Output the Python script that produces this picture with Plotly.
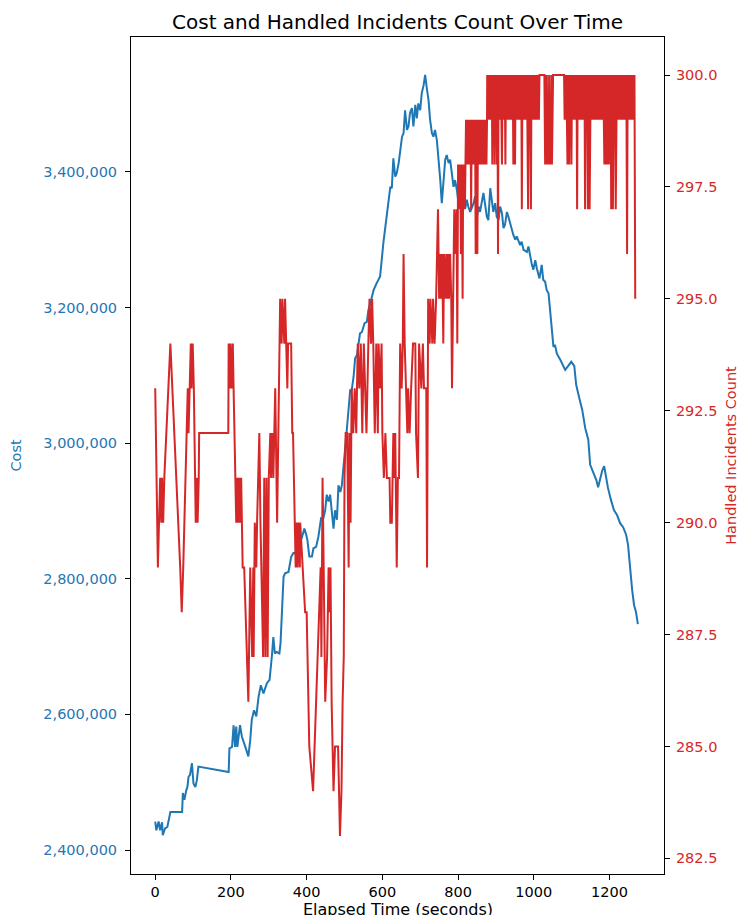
import plotly.graph_objects as go

# ---- Data ----
cost_time = [0, 3, 9, 13, 18, 20, 26, 32, 40, 71, 73, 77, 82, 85, 88, 92, 97, 101, 106, 110, 114,
             194, 196, 203, 207, 211, 214, 217, 224, 229, 238, 242, 246, 251, 255, 261, 267, 273,
             279, 286, 295, 302, 306, 308, 312, 316, 321, 328, 331, 335, 339, 343, 352, 359, 365,
             370, 374, 378, 381, 387, 394, 399, 402, 407, 414, 418, 425, 431, 438, 443, 449, 453,
             458, 462, 467, 471, 475, 480, 484, 489, 493, 497, 502, 506, 515, 519, 524, 528, 533,
             537, 541, 546, 553, 559, 563, 568, 577, 585, 594, 603, 612, 616, 621, 625, 629, 634,
             638, 643, 647, 652, 656, 660, 665, 669, 673, 678, 682, 687, 691, 695, 700, 704, 709,
             713, 718, 722, 726, 731, 735, 739, 744, 748, 753, 757, 761, 766, 770, 775, 779, 784,
             788, 792, 797, 801, 806, 810, 814, 819, 823, 827, 832, 841, 845, 850, 854, 858, 867,
             876, 880, 885, 889, 893, 898, 902, 907, 911, 916, 920, 924, 929, 933, 938, 946, 951,
             955, 964, 968, 973, 982, 986, 990, 995, 999, 1004, 1008, 1015, 1021, 1025, 1030,
             1034, 1039, 1043, 1048, 1052, 1056, 1061, 1070, 1083, 1091, 1099, 1107, 1112, 1120,
             1128, 1136, 1144, 1149, 1157, 1165, 1170, 1175, 1181, 1186, 1191, 1196, 1204, 1212,
             1220, 1228, 1236, 1244, 1249, 1254, 1260, 1265, 1270, 1275]
cost = [2442000, 2429000, 2442000, 2429000, 2441000, 2422000, 2432000, 2434000, 2456000, 2456000,
        2484000, 2474000, 2488000, 2493000, 2508000, 2511000, 2528000, 2498000, 2493000, 2503000,
        2523000, 2515000, 2550000, 2552000, 2584000, 2552000, 2582000, 2552000, 2584000, 2567000,
        2552000, 2545000, 2538000, 2562000, 2592000, 2606000, 2597000, 2626000, 2643000, 2631000,
        2646000, 2651000, 2670000, 2685000, 2714000, 2690000, 2692000, 2690000, 2705000, 2749000,
        2803000, 2808000, 2810000, 2832000, 2838000, 2838000, 2832000, 2833000, 2860000, 2860000,
        2874000, 2865000, 2857000, 2833000, 2833000, 2845000, 2847000, 2862000, 2889000, 2887000,
        2901000, 2924000, 2914000, 2924000, 2894000, 2874000, 2901000, 2887000, 2938000, 2928000,
        2938000, 2960000, 2990000, 3019000, 3078000, 3078000, 3098000, 3125000, 3130000, 3147000,
        3162000, 3164000, 3177000, 3179000, 3196000, 3206000, 3226000, 3236000, 3246000, 3297000,
        3341000, 3359000, 3378000, 3376000, 3420000, 3393000, 3398000, 3413000, 3428000, 3452000,
        3457000, 3491000, 3462000, 3467000, 3487000, 3494000, 3467000, 3499000, 3479000, 3501000,
        3491000, 3516000, 3528000, 3543000, 3521000, 3506000, 3477000, 3457000, 3452000, 3462000,
        3447000, 3423000, 3388000, 3354000, 3388000, 3418000, 3425000, 3413000, 3418000, 3396000,
        3378000, 3388000, 3373000, 3354000, 3364000, 3349000, 3354000, 3346000, 3359000, 3349000,
        3341000, 3354000, 3364000, 3334000, 3349000, 3341000, 3369000, 3334000, 3329000, 3376000,
        3359000, 3341000, 3354000, 3334000, 3329000, 3349000, 3339000, 3317000, 3322000, 3341000,
        3334000, 3322000, 3307000, 3300000, 3305000, 3292000, 3297000, 3285000, 3282000, 3290000,
        3275000, 3263000, 3256000, 3270000, 3258000, 3243000, 3263000, 3241000, 3238000, 3226000,
        3221000, 3196000, 3157000, 3142000, 3145000, 3132000, 3123000, 3108000, 3114000, 3120000,
        3114000, 3086000, 3067000, 3049000, 3022000, 3005000, 2968000, 2958000, 2946000, 2935000,
        2946000, 2960000, 2966000, 2949000, 2934000, 2916000, 2901000, 2894000, 2882000, 2876000,
        2865000, 2850000, 2813000, 2783000, 2761000, 2751000, 2733000]

incident_time = [
    0, 7, 13, 16, 18, 21, 24, 40, 66, 70, 74, 77, 83, 86, 88, 91, 94, 96, 99, 102, 107,
    110, 112, 115, 116, 193, 194, 197, 199, 202, 205, 207, 211, 214, 217, 219, 222, 224,
    227, 231, 235, 246, 251, 256, 259, 260, 263, 267, 269, 275, 278, 285, 288, 291, 294,
    297, 300, 304, 306, 309, 312, 317, 322, 330, 334, 336, 341, 343, 349, 351, 359, 362,
    364, 371, 374, 376, 379, 382, 383, 396, 400, 403, 404, 407, 417, 428, 433, 437, 439,
    442, 445, 449, 454, 458, 461, 463, 466, 469, 471, 475, 483, 488, 492, 495, 498, 500,
    503, 507, 511, 513, 516, 519, 523, 527, 531, 535, 539, 543, 547, 551, 555, 558, 563,
    566, 570, 573, 576, 580, 584, 588, 590, 594, 598, 600, 604, 608, 612, 619, 621, 625,
    629, 632, 634, 638, 641, 644, 647, 651, 654, 656, 659, 662, 666, 668, 672, 676, 681,
    687, 689, 694, 697, 703, 707, 710, 716, 718, 721, 725, 727, 732, 734, 738, 742, 747,
    750, 753, 755, 758, 761, 763, 766, 769, 771, 774, 776, 779, 782, 784, 787, 790, 793,
    796, 798,
    800, 801.5, 803, 804.5, 806, 807.5, 809, 810.5, 812, 813.5, 815, 816.5, 818, 819.5,
    821, 822.5, 824, 825.5, 827, 828.5, 830, 831.5, 833, 834.5, 836, 837.5, 839, 840.5,
    842, 843.5, 845, 846.5, 848, 849.5, 851, 852.5, 854, 855.5, 857, 858.5, 860, 861.5,
    863, 864.5, 866, 867.5, 869, 870.5, 872, 873.5, 875, 876.5,
    877, 878.5, 880, 881.5, 883, 884.5, 886, 887.5, 889, 890.5, 892, 893.5, 895, 896.5,
    898, 899.5, 901, 902.5, 904, 905.5, 907, 908.5, 910, 911.5, 913, 914.5, 916, 917.5,
    919, 920.5, 922, 923.5, 925, 926.5, 928, 929.5, 931, 932.5, 934, 935.5, 937, 938.5,
    940, 941.5, 943, 944.5, 946, 947.5, 949, 950.5, 952, 953.5, 955, 956.5, 958, 959.5,
    961, 962.5, 964, 965.5, 967, 968.5, 970, 971.5, 973, 974.5, 976, 977.5, 979, 980.5,
    982, 983.5, 985, 986.5, 988, 989.5, 991, 992.5, 994, 995.5, 997, 998.5, 1000, 1001.5,
    1003, 1004.5, 1006, 1007.5, 1009, 1010.5, 1012, 1013.5, 1015,
    1028, 1030, 1031.5, 1033, 1034.5, 1036, 1037.5, 1039, 1040.5, 1042, 1043.5, 1045,
    1046.5, 1048, 1049.5, 1051,
    1080, 1081.5, 1083, 1084.5, 1086, 1087.5, 1089, 1090.5, 1092, 1093.5, 1095, 1096.5,
    1098, 1099.5, 1101, 1102.5, 1104, 1105.5, 1107, 1108.5, 1110, 1111.5, 1113, 1114.5,
    1116, 1117.5, 1119, 1120.5, 1122, 1123.5, 1125, 1126.5, 1128, 1129.5, 1131, 1132.5,
    1134, 1135.5, 1137, 1138.5, 1140, 1141.5, 1143, 1144.5, 1146, 1147.5, 1149, 1150.5,
    1152, 1153.5, 1155, 1156.5, 1158, 1159.5, 1161, 1162.5, 1164, 1165.5, 1167, 1168.5,
    1170, 1171.5, 1173, 1174.5, 1176, 1177.5, 1179, 1180.5, 1182, 1183.5, 1185, 1186.5,
    1188, 1189.5, 1191, 1192.5, 1194, 1195.5, 1197, 1198.5, 1200, 1201.5, 1203, 1204.5,
    1206, 1207.5, 1209, 1210.5, 1212, 1213.5, 1215, 1216.5, 1218, 1219.5, 1221, 1222.5,
    1224, 1225.5, 1227, 1228.5, 1230, 1231.5, 1233, 1234.5, 1236, 1237.5, 1239, 1240.5,
    1242, 1243.5, 1245, 1246.5, 1248, 1249.5, 1251, 1252.5, 1254, 1255.5, 1257, 1258.5,
    1260, 1261.5, 1263, 1264.5, 1266, 1268]
incident_count = [
    293, 289, 291, 290, 291, 290, 291, 294, 289, 288, 289, 290, 292, 293, 292, 293, 294,
    293, 294, 293, 290, 291, 290, 291, 292, 292, 294, 293, 294, 293, 294, 293, 291, 290,
    291, 290, 291, 290, 291, 289, 289, 286, 289, 287, 289, 287, 290, 289, 290, 292, 290,
    287, 291, 287, 291, 287, 291, 292, 291, 292, 291, 293, 290, 295, 294, 295, 294, 295,
    293, 294, 294, 292, 292, 289, 290, 289, 290, 289, 290, 288, 288, 287, 286, 285, 284,
    287, 288, 289, 287, 291, 289, 286, 287, 289, 288, 289, 286, 285, 284, 285, 285, 283,
    284, 286, 287, 291, 292, 292, 289, 292, 290, 293, 292, 293, 292, 294, 293, 294, 292,
    294, 293, 292, 294, 295, 294, 295, 294, 292, 294, 292, 294, 293, 294, 292, 291, 292,
    291, 291, 290, 290, 292, 291, 292, 289, 291, 291, 294, 293, 294, 296, 294, 293, 292,
    293, 292, 293, 294, 294, 292, 291, 294, 293, 294, 293, 293, 289, 295, 294, 295, 294,
    295, 294, 295, 297, 295, 296, 295, 296, 294, 296, 295, 296, 295, 296, 295, 296, 295,
    293, 296, 297, 296, 297, 294,
    298, 297, 298, 297, 298, 296, 298, 297, 295, 298, 297, 298, 297, 298,
    299, 298, 299, 298, 299, 298, 299, 298, 299, 297, 299, 298, 299, 298,
    299, 298, 299, 296, 299, 298, 296, 299, 298, 299, 298, 299, 298, 299,
    298, 299, 298, 299, 298, 299, 298, 299, 298, 299,
    300, 299, 300, 299, 300, 299, 300, 299, 300, 298, 300, 299, 300, 298,
    300, 299, 300, 298, 300, 296, 300, 299, 300, 299, 300, 299, 298, 300,
    299, 300, 299, 300, 298, 300, 299, 300, 299, 300, 299, 300, 299, 300,
    299, 300, 299, 300, 298, 300, 299, 298, 300, 299, 300, 299, 300, 299,
    300, 299, 300, 299, 300, 297, 300, 299, 300, 299, 300, 299, 300, 299,
    300, 299, 297, 300, 299, 300, 299, 297, 300, 299, 300, 299, 300, 299,
    300, 299, 300, 299, 300, 299, 300, 299, 300,
    300, 298, 300, 298, 300, 298, 299, 298, 300, 298, 299, 298,
    300, 298, 299, 300,
    300, 299, 300, 299, 300, 299, 298, 300, 299, 298, 300, 299,
    300, 298, 300, 299, 300, 299, 300, 299, 300, 299, 300, 297,
    300, 299, 300, 299, 300, 299, 300, 299, 300, 299, 300, 299,
    300, 297, 299, 300, 299, 300, 297, 299, 300, 297, 299, 300,
    299, 300, 299, 300, 299, 300, 299, 300, 299, 300, 299, 300,
    299, 300, 299, 300, 299, 300, 299, 300, 299, 300, 299, 298,
    300, 299, 298, 300, 298, 299, 300, 298, 300, 299, 300, 297,
    299, 300, 297, 299, 300, 299, 300, 297, 299, 300, 299, 300,
    299, 300, 299, 300, 299, 300, 299, 300, 299, 300, 299, 300,
    299, 300, 299, 296, 300, 299, 300, 299, 300, 299, 300, 299,
    300, 299, 300, 299, 300, 295]

x_ticks = [0, 200, 400, 600, 800, 1000, 1200]
cost_ticks = [2400000, 2600000, 2800000, 3000000, 3200000, 3400000]
incident_ticks = [282.5, 285.0, 287.5, 290.0, 292.5, 295.0, 297.5, 300.0]

BLUE = "#1f77b4"
RED = "#d62728"
FONT = "DejaVu Sans"
TICK_SIZE = 14.5

fig = go.Figure()
fig.add_trace(go.Scatter(x=cost_time, y=cost, mode="lines", name="Cost",
                         line=dict(color=BLUE, width=2), yaxis="y"))
fig.add_trace(go.Scatter(x=incident_time, y=incident_count, mode="lines",
                         name="Handled Incidents Count",
                         line=dict(color=RED, width=2), yaxis="y2"))

axis_common = dict(showgrid=False, zeroline=False, showline=True, linecolor="black",
                   linewidth=1, ticks="outside", ticklen=5, tickwidth=1, tickcolor="black",
                   automargin=False)

# The page adds an 8 px body margin, so the figure is sized to fill the rest of the window.
fig.update_layout(
    width=737, height=907,
    margin=dict(l=123, r=81, t=29, b=41, autoexpand=False),
    paper_bgcolor="white", plot_bgcolor="white",
    font=dict(family=FONT, size=TICK_SIZE, color="black"),
    showlegend=False,
    title=dict(text="Cost and Handled Incidents Count Over Time",
               x=0.5, xref="paper", xanchor="center",
               y=1 - 14 / 907, yref="container", yanchor="middle",
               font=dict(size=20, family=FONT, color="black")),
    xaxis=dict(range=[-64, 1344], tickmode="array", tickvals=x_ticks, mirror=True,
               tickfont=dict(size=TICK_SIZE), **axis_common),
    yaxis=dict(range=[2364600, 3599000], tickmode="array", tickvals=cost_ticks,
               tickformat=",d", mirror=True, ticklabelstandoff=5,
               tickfont=dict(size=TICK_SIZE, color=BLUE),
               title=dict(text="Cost", font=dict(size=TICK_SIZE, color=BLUE), standoff=30),
               **axis_common),
    yaxis2=dict(range=[282.15, 300.85], tickmode="array", tickvals=incident_ticks,
                tickformat=".1f", overlaying="y", side="right", ticklabelstandoff=3,
                tickfont=dict(size=TICK_SIZE, color=RED),
                title=dict(text="Handled Incidents Count", font=dict(size=TICK_SIZE, color=RED),
                           standoff=9),
                **axis_common),
    annotations=[dict(text="Elapsed Time (seconds)", x=0.5, xref="paper", xanchor="center",
                      y=0, yref="paper", yanchor="middle", yshift=-35, showarrow=False,
                      font=dict(size=16, family=FONT, color="black"))],
)

fig.write_html("out.html")
